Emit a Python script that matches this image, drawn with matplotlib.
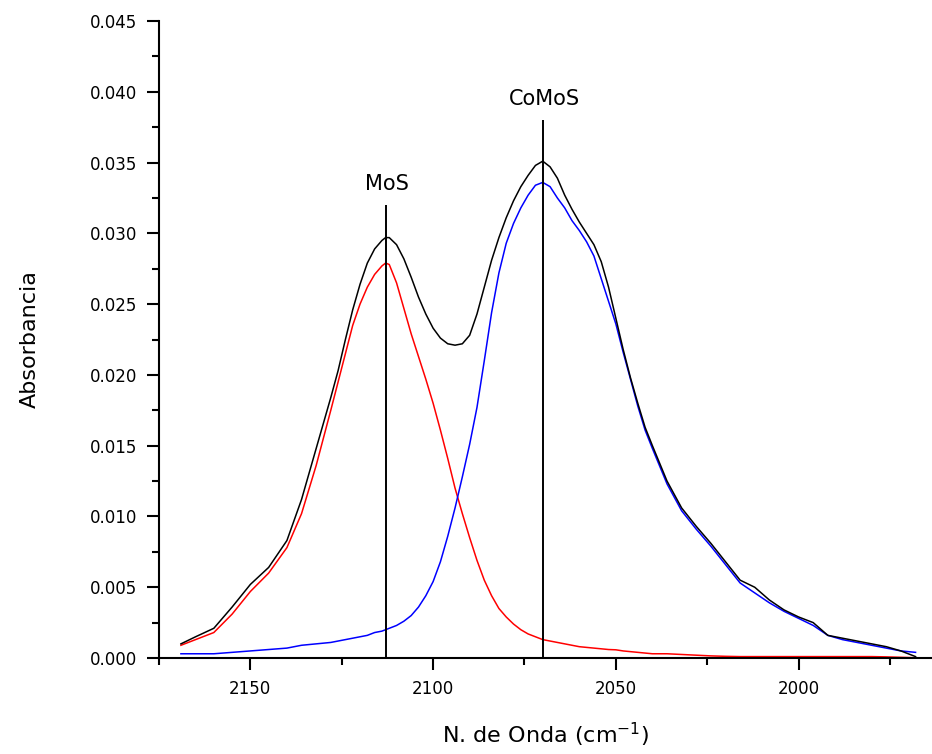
import matplotlib
matplotlib.use("Agg")
import matplotlib.pyplot as plt
from matplotlib.ticker import MultipleLocator, FormatStrFormatter

# numero de onda (cm-1)
numero_onda = [2169, 2165, 2160, 2155, 2150, 2145, 2140, 2136, 2132, 2128,
               2126, 2124, 2122, 2120, 2118, 2116, 2114, 2113, 2112, 2110,
               2108, 2106, 2104, 2102, 2100, 2098, 2096, 2094, 2092, 2090,
               2088, 2086, 2084, 2082, 2080, 2078, 2076, 2074, 2072, 2070,
               2068, 2066, 2064, 2062, 2060, 2058, 2056, 2054, 2052, 2050,
               2048, 2046, 2044, 2042, 2040, 2036, 2032, 2028, 2024, 2020,
               2016, 2012, 2008, 2004, 2000, 1996, 1992, 1988, 1984, 1980,
               1976, 1972, 1968]

# espectro experimental
absorbancia_total = [0.0010, 0.0015, 0.0021, 0.0036, 0.0052, 0.0064, 0.0083, 0.0112, 0.0148, 0.0184,
                     0.0203, 0.0225, 0.0246, 0.0264, 0.0279, 0.0289, 0.0295, 0.0297, 0.0297, 0.0292,
                     0.0282, 0.0269, 0.0255, 0.0243, 0.0233, 0.0226, 0.0222, 0.0221, 0.0222, 0.0228,
                     0.0243, 0.0262, 0.0281, 0.0297, 0.0311, 0.0323, 0.0333, 0.0341, 0.0348, 0.0351,
                     0.0347, 0.0339, 0.0327, 0.0317, 0.0308, 0.0300, 0.0292, 0.0280, 0.0262, 0.0240,
                     0.0218, 0.0198, 0.0180, 0.0163, 0.0150, 0.0125, 0.0106, 0.0093, 0.0081, 0.0068,
                     0.0055, 0.0050, 0.0041, 0.0034, 0.0029, 0.0025, 0.0016, 0.0014, 0.0012, 0.0010,
                     0.0008, 0.0005, 0.0001]

# componente MoS
absorbancia_mos = [0.0009, 0.0013, 0.0018, 0.0031, 0.0047, 0.0060, 0.0078, 0.0102, 0.0136, 0.0175,
                   0.0195, 0.0215, 0.0235, 0.0250, 0.0262, 0.0271, 0.0277, 0.0279, 0.0278, 0.0265,
                   0.0247, 0.0229, 0.0213, 0.0197, 0.0180, 0.0161, 0.0141, 0.0120, 0.0102, 0.0085,
                   0.0069, 0.0055, 0.0044, 0.0035, 0.0029, 0.0024, 0.0020, 0.0017, 0.0015, 0.0013,
                   0.0012, 0.0011, 0.0010, 0.0009, 0.0008, 0.00075, 0.0007, 0.00065, 0.0006, 0.00058,
                   0.0005, 0.00045, 0.0004, 0.00035, 0.0003, 0.0003, 0.00025, 0.0002, 0.00015, 0.00012,
                   0.0001, 0.0001, 0.0001, 0.0001, 0.0001, 0.0001, 0.0001, 0.0001, 0.0001, 0.0001,
                   0.00008, 0.00005, 0.00002]

# componente CoMoS
absorbancia_comos = [0.0003, 0.0003, 0.0003, 0.0004, 0.0005, 0.0006, 0.0007, 0.0009, 0.0010, 0.0011,
                     0.0012, 0.0013, 0.0014, 0.0015, 0.0016, 0.0018, 0.0019, 0.0020, 0.0021, 0.0023,
                     0.0026, 0.0030, 0.0036, 0.0044, 0.0054, 0.0068, 0.0086, 0.0106, 0.0128, 0.0151,
                     0.0177, 0.0210, 0.0244, 0.0272, 0.0293, 0.0307, 0.0318, 0.0327, 0.0334, 0.0336,
                     0.0333, 0.0325, 0.0318, 0.0309, 0.0302, 0.0294, 0.0284, 0.0268, 0.0252, 0.0236,
                     0.0216, 0.0197, 0.0178, 0.0161, 0.0148, 0.0123, 0.0104, 0.0091, 0.0079, 0.0066,
                     0.0053, 0.0046, 0.0039, 0.0033, 0.0028, 0.0023, 0.0016, 0.0013, 0.0011, 0.0009,
                     0.0007, 0.0005, 0.0004]

# posicion de las bandas
bandas = ['MoS', 'CoMoS']
pos_bandas = [2113, 2070]
alto_bandas = [0.032, 0.038]

fig = plt.figure(figsize=(9.32, 7.54), dpi=100)
ax = fig.add_axes([0.1706, 0.1273, 0.8294, 0.8448])

ax.plot(numero_onda, absorbancia_mos, color='#ff0000', lw=1.1)
ax.plot(numero_onda, absorbancia_comos, color='#0000ff', lw=1.1)
ax.plot(numero_onda, absorbancia_total, color='black', lw=1.1)

ax.vlines(pos_bandas, 0, alto_bandas, color='black', lw=1.4)
for nombre, x, y in zip(bandas, pos_bandas, alto_bandas):
    ax.text(x - 0.5, y + 0.0008, nombre, ha='center', va='bottom', fontsize=15)

ax.set_xlim(2175, 1963.5)
ax.set_ylim(0, 0.045)

ax.xaxis.set_major_locator(MultipleLocator(50))
ax.xaxis.set_minor_locator(MultipleLocator(25))
ax.yaxis.set_major_locator(MultipleLocator(0.005))
ax.yaxis.set_minor_locator(MultipleLocator(0.0025))
ax.yaxis.set_major_formatter(FormatStrFormatter('%.3f'))

for lado in ['top', 'right']:
    ax.spines[lado].set_visible(False)
for lado in ['left', 'bottom']:
    ax.spines[lado].set_linewidth(1.5)

ax.tick_params(which='major', length=8.5, width=1.5, labelsize=12, pad=7)
ax.tick_params(which='minor', length=5, width=1.5)

ax.set_xlabel('N. de Onda (cm$^{-1}$)', fontsize=16, labelpad=17)
ax.set_ylabel('Absorbancia', fontsize=16, labelpad=36)

plt.savefig('out.png', dpi=100)
